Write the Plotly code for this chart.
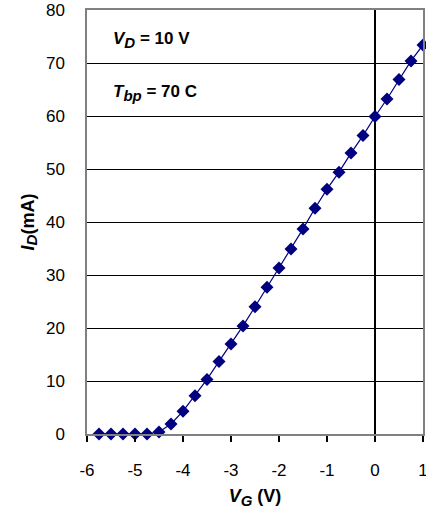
import plotly.graph_objects as go

vg = [-5.75, -5.5, -5.25, -5.0, -4.75, -4.5, -4.25, -4.0, -3.75, -3.5, -3.25, -3.0,
      -2.75, -2.5, -2.25, -2.0, -1.75, -1.5, -1.25, -1.0, -0.75, -0.5, -0.25, 0.0,
      0.25, 0.5, 0.75, 1.0]
id_ma = [0, 0, 0, 0, 0, 0.4, 1.9, 4.3, 7.2, 10.3, 13.7, 17.0,
         20.4, 24.0, 27.7, 31.3, 34.9, 38.7, 42.6, 46.2, 49.4, 53.0, 56.3, 59.9,
         63.2, 66.9, 70.4, 73.4]
x_ticks = [-6, -5, -4, -3, -2, -1, 0, 1]
y_ticks = [0, 10, 20, 30, 40, 50, 60, 70, 80]

FONT = "Liberation Sans, Arial, sans-serif"
NAVY = "#000080"

fig = go.Figure()
fig.add_trace(go.Scatter(
    x=vg, y=id_ma, mode="lines+markers",
    line=dict(color=NAVY, width=1.2),
    marker=dict(symbol="diamond", size=10, color=NAVY),
    cliponaxis=False, showlegend=False,
))

L, R, T, B = 87, 3, 10, 81
W, H = 426, 515
pw = W - L - R
ph = H - T - B

SUB = "<sub><span style='font-size:15px'>{}</span></sub>"

fig.update_layout(
    width=W, height=H,
    margin=dict(l=L, r=R, t=T, b=B),
    paper_bgcolor="white", plot_bgcolor="white",
    font=dict(family=FONT, size=17, color="black"),
    xaxis=dict(
        range=[-6, 1], tickvals=x_ticks, ticktext=[str(v) for v in x_ticks],
        automargin=False, ticklabeloverflow="allow",
        showgrid=False, zeroline=True, zerolinecolor="black", zerolinewidth=2,
        showline=True, linecolor="#808080", linewidth=1.5, mirror=True,
        ticks="outside", ticklen=6, tickcolor="black", tickwidth=1.5,
        ticklabelstandoff=14,
        title=dict(text="<b><i>V" + SUB.format("G") + "</i> (V)</b>", font=dict(size=18), standoff=10),
    ),
    yaxis=dict(
        range=[0, 80], tickvals=y_ticks, ticktext=[str(v) for v in y_ticks],
        automargin=False,
        showgrid=True, gridcolor="black", gridwidth=1.3,
        zeroline=True, zerolinecolor="black", zerolinewidth=2.5,
        showline=True, linecolor="#808080", linewidth=1.5, mirror=True,
        ticks="", ticklabelstandoff=17,
        title=dict(text="<b><i>I" + SUB.format("D") + "</i>(mA)</b>", font=dict(size=18), standoff=7),
    ),
    annotations=[
        dict(text="<b><i>V" + SUB.format("D") + "</i> = 10 V</b>", xref="paper", yref="paper",
             x=(111 - L) / pw, y=1 - (40 - T) / ph, xanchor="left", yanchor="middle",
             showarrow=False, font=dict(size=17)),
        dict(text="<b><i>T" + SUB.format("bp") + "</i> = 70 C</b>", xref="paper", yref="paper",
             x=(111 - L) / pw, y=1 - (93 - T) / ph, xanchor="left", yanchor="middle",
             showarrow=False, font=dict(size=17)),
    ],
)

fig.write_html("out.html", config={"displayModeBar": False},
               post_script="document.body.style.margin='0';document.body.style.overflow='hidden';")
